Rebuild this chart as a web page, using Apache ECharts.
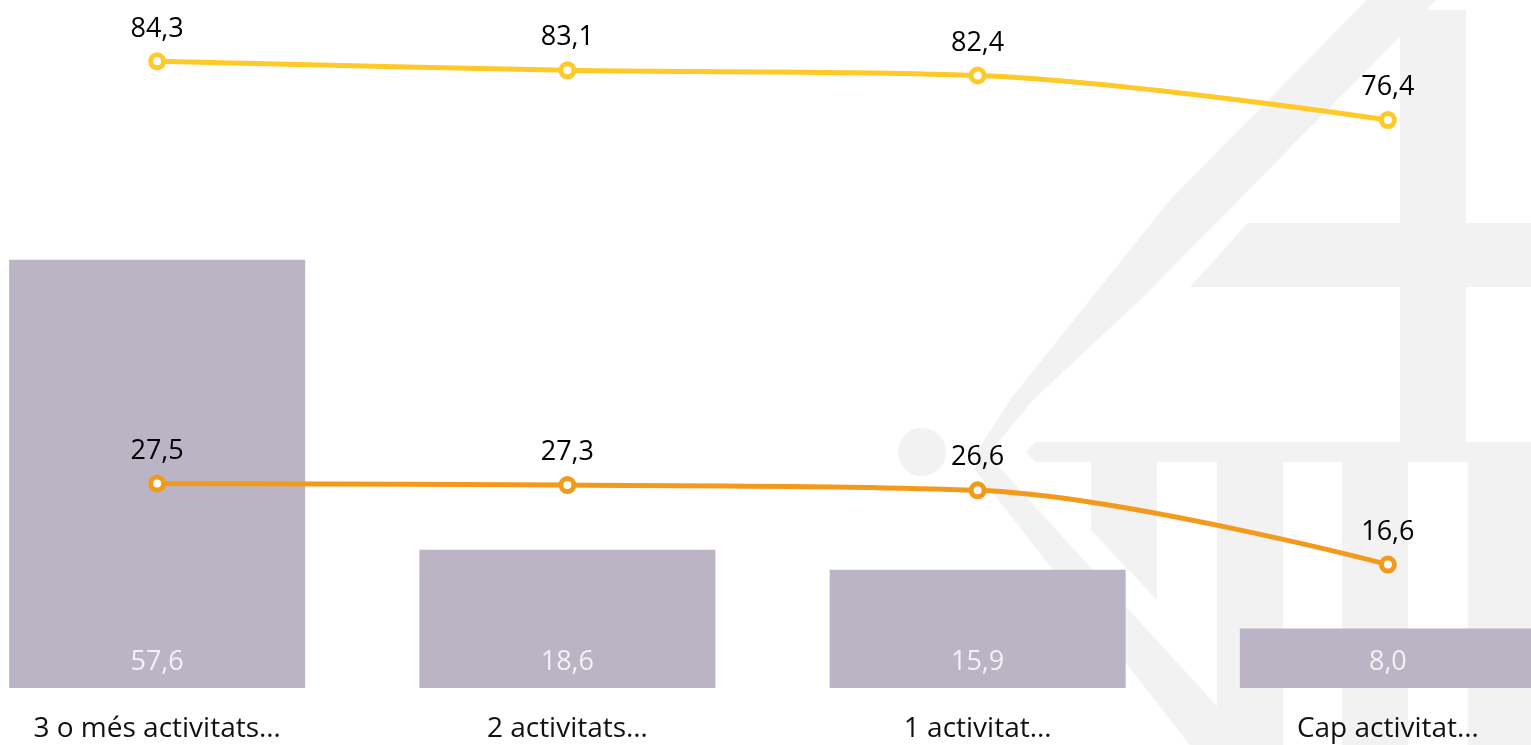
<!DOCTYPE html>
<html>
<head>
<meta charset="utf-8">
<title>Activitats</title>
<script src="https://cdn.jsdelivr.net/npm/echarts@6.0.0/dist/echarts.min.js"></script>
<style>
  html, body { margin: 0; padding: 0; background: #fff; }
  #chart { width: 1531px; height: 745px; }
</style>
</head>
<body>
<div id="chart"></div>
<script>
  // dades
  var categories = ['3 o més activitats…', '2 activitats…', '1 activitat…', 'Cap activitat…'];
  var barValues = [57.6, 18.6, 15.9, 8.0];
  var upperValues = [84.3, 83.1, 82.4, 76.4];
  var lowerValues = [27.5, 27.3, 26.6, 16.6];

  var FONT = '"Open Sans", "Noto Sans", sans-serif';
  var GREY = '#f2f2f2';

  function fmt(p) {
    return p.value.toFixed(1).replace('.', ',');
  }

  // marca d'aigua del fons (decoració)
  var watermark = [
    { type: 'polygon', shape: { points: [[1367, 0], [1436, 0], [1140, 300], [1033, 400], [992, 450], [978, 450], [1010, 400], [1090, 300], [1170, 200]] } },
    { type: 'polygon', shape: { points: [[978, 450], [992, 450], [1000, 468], [1252, 745], [1190, 745], [975, 470]] } },
    { type: 'circle', shape: { cx: 922, cy: 452, r: 24 } },
    { type: 'polygon', shape: { points: [[1248, 223], [1531, 223], [1531, 287], [1190, 287]] } },
    { type: 'rect', shape: { x: 1400, y: 10, width: 66, height: 452 } },
    { type: 'polygon', shape: { points: [[1036, 442], [1531, 442], [1531, 462], [1036, 462], [1026, 452]] } },
    { type: 'polygon', shape: { points: [[1091, 462], [1157, 462], [1157, 600], [1091, 530]] } },
    { type: 'rect', shape: { x: 1217, y: 462, width: 66, height: 283 } },
    { type: 'rect', shape: { x: 1342, y: 462, width: 66, height: 283 } },
    { type: 'rect', shape: { x: 1468, y: 462, width: 63, height: 283 } }
  ];
  watermark.forEach(function (el) {
    el.z = 0;
    el.silent = true;
    el.style = { fill: GREY };
  });

  var myChart = echarts.init(document.getElementById('chart'));
  var option = {
    backgroundColor: '#fff',
    animation: false,
    graphic: watermark,
    grid: {
      left: -48,
      right: -62,
      top: 19,
      bottom: 57,
      outerBoundsMode: 'none',
      containLabel: false
    },
    xAxis: {
      type: 'category',
      data: categories,
      axisLine: { show: false },
      axisTick: { show: false },
      axisLabel: {
        color: '#111',
        fontFamily: FONT,
        fontSize: 28,
        margin: 27
      }
    },
    yAxis: {
      type: 'value',
      min: 0,
      max: 90,
      show: false,
      splitLine: { show: false }
    },
    series: [
      {
        name: 'barres',
        type: 'bar',
        data: barValues,
        barWidth: 296,
        z: 2,
        itemStyle: { color: '#bab4c5' },
        label: {
          show: true,
          position: 'insideBottom',
          distance: 12,
          color: '#f3f1f5',
          fontFamily: FONT,
          fontSize: 27,
          formatter: fmt
        }
      },
      {
        name: 'línia superior',
        type: 'line',
        data: upperValues,
        smooth: 0.35,
        z: 3,
        symbol: 'circle',
        symbolSize: 13,
        lineStyle: { color: '#ffc928', width: 5 },
        itemStyle: { color: '#fff', borderColor: '#ffc928', borderWidth: 5 },
        label: {
          show: true,
          position: 'top',
          distance: 10,
          color: '#000',
          fontFamily: FONT,
          fontSize: 27,
          formatter: fmt
        }
      },
      {
        name: 'línia inferior',
        type: 'line',
        data: lowerValues,
        smooth: 0.35,
        z: 3,
        symbol: 'circle',
        symbolSize: 13,
        lineStyle: { color: '#f39a1c', width: 5 },
        itemStyle: { color: '#fff', borderColor: '#f39a1c', borderWidth: 5 },
        label: {
          show: true,
          position: 'top',
          distance: 10,
          color: '#000',
          fontFamily: FONT,
          fontSize: 27,
          formatter: fmt
        }
      }
    ]
  };
  myChart.setOption(option);
</script>
</body>
</html>
